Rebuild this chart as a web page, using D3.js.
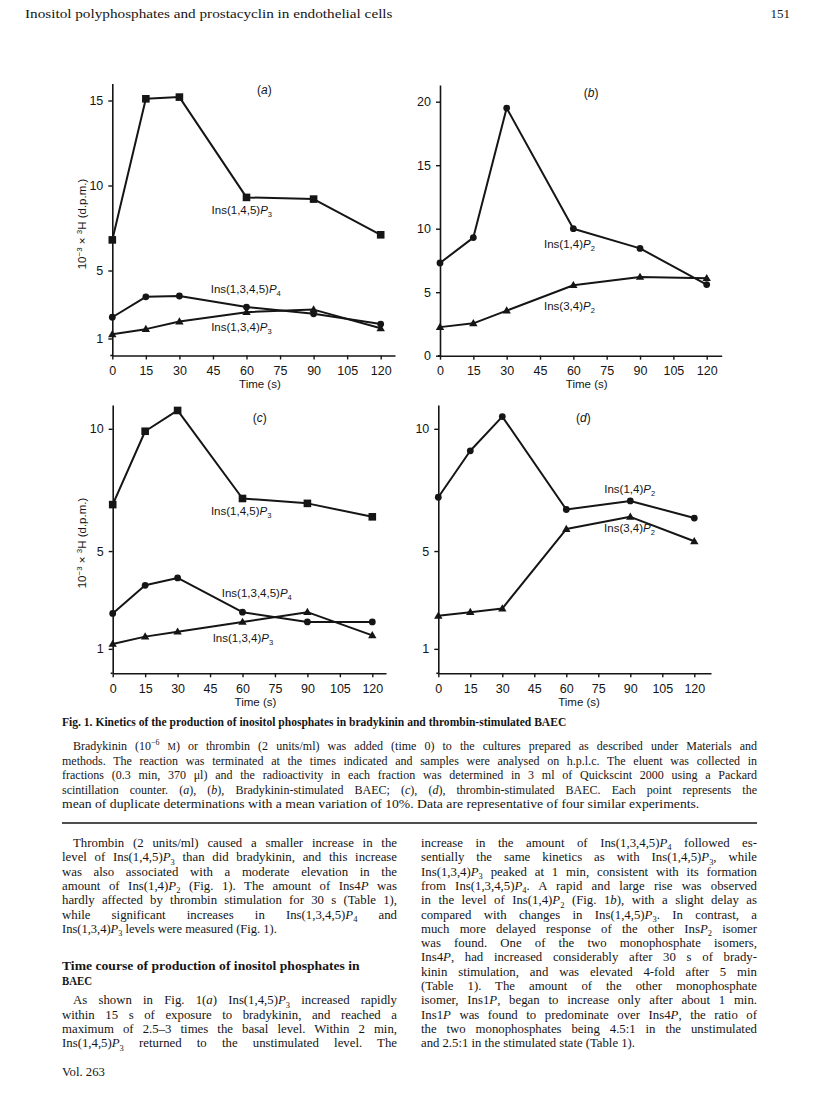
<!DOCTYPE html>
<html><head><meta charset="utf-8">
<script src="https://cdn.jsdelivr.net/npm/d3@7"></script>
<style>body{margin:0;background:#fff} svg{display:block}</style>
</head><body>
<svg id="page" width="816" height="1097"></svg>
<script>
// ---------------- DATA ----------------
const times = [0, 15, 30, 60, 90, 120];
const xTicks = [0, 15, 30, 45, 60, 75, 90, 105, 120];
const yTicksA = [1, 5, 10, 15];
const yTicksB = [0, 5, 10, 15, 20];
const yTicksC = [1, 5, 10];
const yTicksD = [1, 5, 10];

// Panel (a) bradykinin
const aIns145P3  = [6.8, 15.1, 15.2, 9.3, 9.2, 7.1];
const aIns1345P4 = [2.25, 3.45, 3.5, 2.85, 2.45, 1.85];
const aIns134P3  = [1.25, 1.55, 2.0, 2.55, 2.7, 1.6];
// Panel (b) bradykinin
const bIns14P2 = [7.3, 9.3, 19.5, 10.0, 8.45, 5.6];
const bIns34P2 = [2.25, 2.55, 3.55, 5.55, 6.2, 6.1];
// Panel (c) thrombin
const cIns145P3  = [6.9, 9.9, 10.75, 7.15, 6.95, 6.4];
const cIns1345P4 = [2.45, 3.6, 3.9, 2.5, 2.1, 2.1];
const cIns134P3  = [1.2, 1.5, 1.7, 2.1, 2.5, 1.55];
// Panel (d) thrombin
const dIns14P2 = [7.2, 9.1, 10.5, 6.7, 7.05, 6.35];
const dIns34P2 = [2.35, 2.5, 2.65, 5.9, 6.4, 5.4];

// ---------------- LAYOUT ----------------
const INK = "#151515";
const SANS = "'Liberation Sans', Arial, Helvetica, sans-serif";
const SERIF = "'Liberation Serif', 'Times New Roman', serif";
const svg = d3.select("#page");

const panels = [
  {id:"a", x0:112.3, x120:380.7, xEnd:395, yBase:355.5, ppu:17, yTop:83.5, yTicks:yTicksA, yTitle:true,
   letterY:94,
   series:[
     {vals:aIns145P3, shape:"square", label:"Ins(1,4,5)*P*_3", lt:44.4, lv:8.32},
     {vals:aIns1345P4, shape:"circle", label:"Ins(1,3,4,5)*P*_4", lt:44.0, lv:3.68},
     {vals:aIns134P3, shape:"triangle", label:"Ins(1,3,4)*P*_3", lt:44.2, lv:1.44}
   ]},
  {id:"b", x0:440, x120:706.7, xEnd:721.7, yBase:355.7, ppu:12.7, yTop:85, yTicks:yTicksB, yTitle:false,
   letterY:97,
   series:[
     {vals:bIns14P2, shape:"circle", label:"Ins(1,4)*P*_2", lt:46.8, lv:8.48},
     {vals:bIns34P2, shape:"triangle", label:"Ins(3,4)*P*_2", lt:46.8, lv:3.62}
   ]},
  {id:"c", x0:112.7, x120:372.3, xEnd:386, yBase:673.3, ppu:24.45, yTop:405, yTicks:yTicksC, yTitle:true,
   letterY:422,
   series:[
     {vals:cIns145P3, shape:"square", label:"Ins(1,4,5)*P*_3", lt:45.4, lv:6.47},
     {vals:cIns1345P4, shape:"circle", label:"Ins(1,3,4,5)*P*_4", lt:50.4, lv:3.13},
     {vals:cIns134P3, shape:"triangle", label:"Ins(1,3,4)*P*_3", lt:46.2, lv:1.29}
   ]},
  {id:"d", x0:438.3, x120:694.3, xEnd:711, yBase:673.3, ppu:24.45, yTop:405, yTicks:yTicksD, yTitle:false,
   letterY:422,
   series:[
     {vals:dIns14P2, shape:"circle", label:"Ins(1,4)*P*_2", lt:77.8, lv:7.36},
     {vals:dIns34P2, shape:"triangle", label:"Ins(3,4)*P*_2", lt:77.7, lv:5.77}
   ]}
];

// ---------------- RICH TEXT ----------------
function parseRich(s){
  const re = /\*([^*]+)\*|_\{([^}]+)\}|_(.)|\^\{([^}]+)\}|\{sc:([^}]+)\}/g;
  const out=[]; let last=0, m;
  while((m=re.exec(s))){
    if(m.index>last) out.push({t:s.slice(last,m.index)});
    if(m[1]) out.push({t:m[1], it:true});
    else if(m[2]||m[3]) out.push({t:m[2]||m[3], sub:true});
    else if(m[4]) out.push({t:m[4], sup:true});
    else if(m[5]) out.push({t:m[5], sc:true});
    last=re.lastIndex;
  }
  if(last<s.length) out.push({t:s.slice(last)});
  return out;
}
function drawRich(parent, s, x, y, o){
  o = o||{};
  const fs = o.size||12;
  const t = parent.append("text").attr("x",x).attr("y",y)
    .attr("font-family", o.family||SERIF).attr("font-size", fs)
    .attr("fill", INK).attr("font-weight", o.weight||"normal")
    .attr("text-anchor", o.anchor||"start")
    .style("white-space","pre");
  let shift=0;
  const segs = parseRich(s);
  segs.forEach(seg=>{
    const ts = t.append("tspan").text(seg.t);
    const target = seg.sub ? fs*0.26 : seg.sup ? -fs*0.4 : 0;
    if(target!==shift){ ts.attr("dy", target-shift); shift=target; }
    if(seg.sub||seg.sup) ts.attr("font-size", fs*0.66);
    if(seg.sc) ts.attr("font-size", fs*0.78);
    if(seg.it) ts.attr("font-style","italic");
  });
  const plain = segs.map(d=>d.t).join("");
  if(o.width){
    const nat = t.node().getComputedTextLength();
    const spaces = (plain.match(/ /g)||[]).length;
    if(o.justify && nat < o.width && spaces>0){
      t.attr("word-spacing", (o.width-nat)/spaces);
    } else if(o.fit || nat > o.width){
      const k = o.width/nat;
      t.attr("transform", `translate(${x},0) scale(${k},1) translate(${-x},0)`);
    }
  }
  return t;
}

// ---------------- CHARTS ----------------
function marker(g, shape, cx, cy){
  if(shape==="square"){
    g.append("rect").attr("x",cx-3.8).attr("y",cy-3.8).attr("width",7.6).attr("height",7.6).attr("fill",INK);
  } else if(shape==="circle"){
    g.append("circle").attr("cx",cx).attr("cy",cy).attr("r",3.4).attr("fill",INK);
  } else {
    const h=7.2, w=8.4;
    g.append("path").attr("d",`M${cx},${cy-h*0.6}L${cx+w/2},${cy+h*0.4}L${cx-w/2},${cy+h*0.4}Z`).attr("fill",INK);
  }
}

panels.forEach(p=>{
  const g = svg.append("g");
  const xMax = 120*(p.xEnd-p.x0)/(p.x120-p.x0);
  const yMax = (p.yBase-p.yTop)/p.ppu;
  const x = d3.scaleLinear().domain([0,xMax]).range([p.x0,p.xEnd]);
  const y = d3.scaleLinear().domain([0,yMax]).range([p.yBase,p.yTop]);

  const xa = g.append("g").attr("transform",`translate(0,${p.yBase})`)
    .call(d3.axisBottom(x).tickValues(xTicks).tickSize(4).tickSizeOuter(0).tickPadding(6.5).tickFormat(d3.format("d")));
  const ya = g.append("g").attr("transform",`translate(${p.x0},0)`)
    .call(d3.axisLeft(y).tickValues(p.yTicks).tickSize(4).tickSizeOuter(0).tickPadding(5).tickFormat(d3.format("d")));
  [xa,ya].forEach(a=>{
    a.select(".domain").attr("stroke",INK).attr("stroke-width",1.6);
    a.selectAll(".tick line").attr("stroke",INK).attr("stroke-width",1.4);
    a.selectAll(".tick text").attr("fill",INK).attr("font-family",SANS).attr("font-size",12.5);
  });
  g.append("line").attr("x1",p.x0-2).attr("x2",p.x0).attr("y1",p.yBase).attr("y2",p.yBase).attr("stroke",INK).attr("stroke-width",1.6);

  g.append("text").attr("x",x(66)).attr("y",p.yBase+32.5).attr("text-anchor","middle")
    .attr("font-family",SANS).attr("font-size",11.5).attr("fill",INK).text("Time (s)");

  const lt = g.append("text").attr("x",x(68)).attr("y",p.letterY).attr("text-anchor","middle")
    .attr("font-family",SANS).attr("font-size",12).attr("fill",INK);
  lt.append("tspan").text("(");
  lt.append("tspan").attr("font-style","italic").text(p.id);
  lt.append("tspan").text(")");

  if(p.yTitle){
    const cy = (p.id==="a") ? 224 : 543;
    const tt = g.append("text").attr("transform",`translate(86,${cy}) rotate(-90)`).attr("text-anchor","middle")
      .attr("font-family",SANS).attr("font-size",11.5).attr("fill",INK);
    tt.append("tspan").text("10");
    tt.append("tspan").attr("font-size",8).attr("dy",-4.5).text("−3");
    tt.append("tspan").attr("dy",4.5).text(" × ");
    tt.append("tspan").attr("font-size",8).attr("dy",-4.5).text("3");
    tt.append("tspan").attr("dy",4.5).text("H (d.p.m.)");
  }

  const line = d3.line().x((d,i)=>x(times[i])).y(d=>y(d));
  p.series.forEach(s=>{
    g.append("path").datum(s.vals).attr("d",line).attr("fill","none")
      .attr("stroke",INK).attr("stroke-width",2).attr("stroke-linejoin","round");
    s.vals.forEach((v,i)=>marker(g, s.shape, x(times[i]), y(v)));
    drawRich(g, s.label, x(s.lt), y(s.lv), {family:SANS, size:11.5});
  });
});

// ---------------- PAGE TEXT ----------------
drawRich(svg, "Inositol polyphosphates and prostacyclin in endothelial cells", 25, 18, {size:13, width:368, fit:true});
drawRich(svg, "151", 790, 18, {size:13, anchor:"end"});

drawRich(svg, "Fig. 1. Kinetics of the production of inositol phosphates in bradykinin and thrombin-stimulated BAEC", 62, 726, {size:12.5, weight:"bold", width:505, fit:true});

const caption = [
  "Bradykinin (10^{−6} {sc:M}) or thrombin (2 units/ml) was added (time 0) to the cultures prepared as described under Materials and",
  "methods. The reaction was terminated at the times indicated and samples were analysed on h.p.l.c. The eluent was collected in",
  "fractions (0.3 min, 370 μl) and the radioactivity in each fraction was determined in 3 ml of Quickscint 2000 using a Packard",
  "scintillation counter. (*a*), (*b*), Bradykinin-stimulated BAEC; (*c*), (*d*), thrombin-stimulated BAEC. Each point represents the",
  "mean of duplicate determinations with a mean variation of 10%. Data are representative of four similar experiments."
];
caption.forEach((l,i)=>{
  const x0 = i===0 ? 73 : 62;
  const last = i===caption.length-1;
  drawRich(svg, l, x0, 750+i*14.5, {size:12, width: last ? 638 : 757-x0, justify:!last, fit:last});
});

svg.append("line").attr("x1",62).attr("x2",757).attr("y1",823).attr("y2",823).attr("stroke",INK).attr("stroke-width",1.5);

const LH = 14.3, B0 = 847;
const leftLines = [
  {t:"Thrombin (2 units/ml) caused a smaller increase in the", n:1, ind:true},
  {t:"level of Ins(1,4,5)*P*_3 than did bradykinin, and this increase", n:2},
  {t:"was also associated with a moderate elevation in the", n:3},
  {t:"amount of Ins(1,4)*P*_2 (Fig. 1). The amount of Ins4*P* was", n:4},
  {t:"hardly affected by thrombin stimulation for 30 s (Table 1),", n:5},
  {t:"while significant increases in Ins(1,3,4,5)*P*_4 and", n:6},
  {t:"Ins(1,3,4)*P*_3 levels were measured (Fig. 1).", n:7, end:277},
  {t:"As shown in Fig. 1(*a*) Ins(1,4,5)*P*_3 increased rapidly", n:12, ind:true},
  {t:"within 15 s of exposure to bradykinin, and reached a", n:13},
  {t:"maximum of 2.5–3 times the basal level. Within 2 min,", n:14},
  {t:"Ins(1,4,5)*P*_3 returned to the unstimulated level. The", n:15}
];
const BFS = 12.8;
leftLines.forEach(l=>{
  const x0 = l.ind ? 73 : 62;
  drawRich(svg, l.t, x0, B0+(l.n-1)*LH, {size:BFS, width:(l.end||397)-x0, justify:!l.end, fit:!!l.end});
});
drawRich(svg, "Time course of production of inositol phosphates in", 62, 970, {size:BFS, weight:"bold", width:298, fit:true});
drawRich(svg, "BAEC", 62, 985, {size:BFS, weight:"bold", width:30, fit:true});

const rightLines = [
  "increase in the amount of Ins(1,3,4,5)*P*_4 followed es-",
  "sentially the same kinetics as with Ins(1,4,5)*P*_3, while",
  "Ins(1,3,4)*P*_3 peaked at 1 min, consistent with its formation",
  "from Ins(1,3,4,5)*P*_4. A rapid and large rise was observed",
  "in the level of Ins(1,4)*P*_2 (Fig. 1*b*), with a slight delay as",
  "compared with changes in Ins(1,4,5)*P*_3. In contrast, a",
  "much more delayed response of the other Ins*P*_2 isomer",
  "was found. One of the two monophosphate isomers,",
  "Ins4*P*, had increased considerably after 30 s of brady-",
  "kinin stimulation, and was elevated 4-fold after 5 min",
  "(Table 1). The amount of the other monophosphate",
  "isomer, Ins1*P*, began to increase only after about 1 min.",
  "Ins1*P* was found to predominate over Ins4*P*, the ratio of",
  "the two monophosphates being 4.5:1 in the unstimulated",
  "and 2.5:1 in the stimulated state (Table 1)."
];
rightLines.forEach((l,i)=>{
  const last = i===rightLines.length-1;
  drawRich(svg, l, 421, B0+i*LH, {size:BFS, width: last ? 214 : 336, justify:!last, fit:last});
});

drawRich(svg, "Vol. 263", 62, 1076, {size:BFS, width:43, fit:true});
</script>
</body></html>
